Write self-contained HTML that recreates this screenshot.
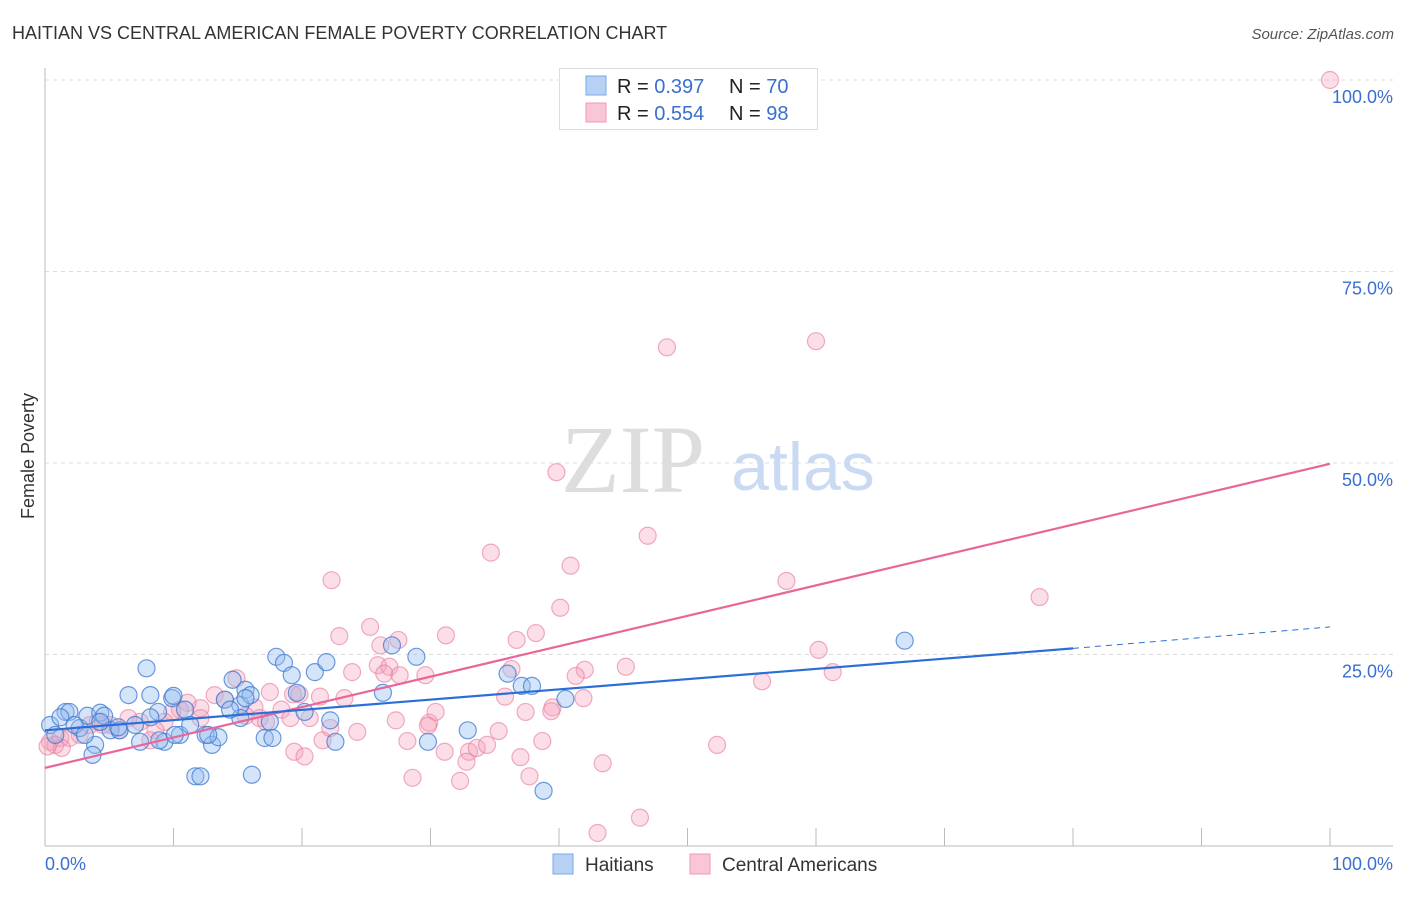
<!DOCTYPE html>
<html><head><meta charset="utf-8"><style>
body{margin:0;background:#fff;font-family:"Liberation Sans",sans-serif;}
svg text{font-family:"Liberation Sans",sans-serif;}
</style></head><body>
<svg id="chart" width="1406" height="892">
<text x="12" y="39" font-size="18" fill="#333">HAITIAN VS CENTRAL AMERICAN FEMALE POVERTY CORRELATION CHART</text>
<text x="1394" y="39" font-size="15" fill="#555" text-anchor="end" font-style="italic">Source: ZipAtlas.com</text>
<text x="34" y="456" font-size="18" fill="#333" text-anchor="middle" transform="rotate(-90 34 456)">Female Poverty</text>
<g id="grid"></g>
<text x="633" y="492" font-size="96" fill="#ddd" font-family="Liberation Serif" text-anchor="middle" style="font-family:'Liberation Serif',serif">ZIP</text>
<text x="803" y="490" font-size="68" fill="#c9daf2" text-anchor="middle">atlas</text>
<g id="pts"></g>
<g id="lines"></g>
<g>
<rect x="559.5" y="68.5" width="258" height="61" fill="#fff" stroke="#ddd"/>
<rect x="586" y="76" width="20" height="19" fill="#b7d1f5" stroke="#7aa7e6"/>
<rect x="586" y="103" width="20" height="19" fill="#f9c6d5" stroke="#ef9ab5"/>
<text x="617" y="93" font-size="20" fill="#222">R = <tspan fill="#3a6fd0">0.397</tspan></text>
<text x="729" y="93" font-size="20" fill="#222">N = <tspan fill="#3a6fd0">70</tspan></text>
<text x="617" y="120" font-size="20" fill="#222">R = <tspan fill="#3a6fd0">0.554</tspan></text>
<text x="729" y="120" font-size="20" fill="#222">N = <tspan fill="#3a6fd0">98</tspan></text>
</g>
<g>
<rect x="553" y="854" width="20" height="20" fill="#b7d1f5" stroke="#7aa7e6"/>
<text x="585" y="871" font-size="19" fill="#333">Haitians</text>
<rect x="690" y="854" width="20" height="20" fill="#f9c6d5" stroke="#ef9ab5"/>
<text x="722" y="871" font-size="19" fill="#333">Central Americans</text>
</g>
</svg>
<script>
const yTicks=[25,50,75,100];
const yTickLabels=["25.0%","50.0%","75.0%","100.0%"];
const xTicks=[0,10,20,30,40,50,60,70,80,90,100];
const haitiansX=[0.4,0.8,1.6,1.9,2.7,3.3,3.9,3.7,4.3,4.6,5.1,5.8,6.5,7.4,7.9,8.2,8.8,9.3,9.9,10.0,10.5,10.9,11.3,11.7,12.1,12.5,13.0,13.5,14.6,15.2,15.6,16.0,16.1,17.1,17.5,17.7,18.0,18.6,19.2,19.6,20.2,21.0,21.9,22.2,22.6,26.3,27.0,28.9,29.8,32.9,36.0,37.1,37.9,38.8,40.5,66.9,1.2,2.3,3.1,7.0,8.9,10.1,5.7,12.7,14.0,15.6,15.2,4.3,8.2,14.4];
const haitiansY=[15.8,14.5,17.5,17.5,15.4,17.0,13.2,11.9,17.4,17.0,15.1,15.1,19.7,13.6,23.2,19.7,17.5,13.6,19.3,19.6,14.5,17.8,15.8,9.1,9.1,14.5,13.2,14.2,21.7,18.4,20.4,19.7,9.3,14.1,16.2,14.1,24.7,23.9,22.3,20.0,17.5,22.7,24.0,16.4,13.6,20.0,26.2,24.7,13.6,15.1,22.5,20.9,20.9,7.2,19.2,26.8,16.8,15.8,14.5,15.8,13.8,14.5,15.5,14.5,19.1,19.3,16.7,16.2,16.8,17.8];
const centralX=[100,48.4,60.0,39.8,46.9,34.7,40.9,57.7,77.4,22.3,40.1,38.2,36.7,22.9,25.3,26.1,27.5,31.2,29.6,36.3,42.0,45.2,60.2,61.3,55.8,23.9,25.9,26.8,26.4,27.6,23.3,17.5,19.3,19.8,21.4,14.9,13.2,14.0,16.3,12.1,11.1,10.5,9.9,9.3,8.6,7.4,6.5,5.8,5.1,3.5,2.7,1.2,0.4,0.8,1.9,4.1,4.5,16.7,18.4,19.1,20.6,21.6,22.2,24.3,27.3,28.2,29.9,30.4,29.8,31.1,33.0,33.6,34.4,35.3,35.8,37.4,38.7,39.5,41.3,41.9,37.0,37.7,39.4,28.6,32.3,32.8,43.4,46.3,43.0,52.3,19.4,20.2,17.2,15.6,12.1,8.2,1.3,0.2];
const centralY=[100,65.1,65.9,48.8,40.5,38.3,36.6,34.6,32.5,34.7,31.1,27.8,26.9,27.4,28.6,26.2,26.9,27.5,22.3,23.1,23.0,23.4,25.6,22.7,21.5,22.7,23.6,23.4,22.5,22.3,19.3,20.1,19.8,19.8,19.5,21.9,19.7,19.1,18.1,18.0,18.7,17.8,17.5,16.2,15.1,16.2,16.7,15.1,15.8,15.8,14.5,14.1,13.6,13.2,14.1,16.2,15.8,16.7,17.8,16.7,16.7,13.8,15.4,14.9,16.4,13.7,16.1,17.5,15.7,12.3,12.3,12.8,13.2,15.0,19.5,17.5,13.7,18.1,22.2,19.3,11.6,9.1,17.6,8.9,8.5,11.0,10.8,3.7,1.7,13.2,12.3,11.7,16.2,17.0,16.7,13.8,12.8,13.0];
const haitiansTrend=[15.1,25.8,28.6]; // at x=0, 80, 100
const centralTrend=[10.2,49.9]; // at x=0, 100
const NS='http://www.w3.org/2000/svg';
const X=v=>45+v*12.85, Y=v=>846-v*7.66;
function mk(t,a,p){const e=document.createElementNS(NS,t);for(const k in a)e.setAttribute(k,a[k]);p.appendChild(e);return e;}
const grid=document.getElementById('grid');
yTicks.forEach((t,i)=>{
 const l=mk('line',{x1:45,x2:1393,y1:Y(t),y2:Y(t),stroke:'#ddd','stroke-dasharray':'4,4'},grid);
 
 
 const tx=mk('text',{x:1393,y:Y(t)+23,'font-size':18,fill:'#3a6fd0','text-anchor':'end'},grid);
 tx.textContent=yTickLabels[i];
 
 
});
const ax=mk('line',{x1:45,x2:1393,y1:846,y2:846,stroke:'#bbb'},grid);


const ay=mk('line',{x1:45,x2:45,y1:68,y2:846,stroke:'#bbb'},grid);


xTicks.forEach(t=>{if(t===0)return;
 const l=mk('line',{x1:X(t),x2:X(t),y1:828,y2:846,stroke:'#bbb'},grid);
 
 
});
const x0=mk('text',{x:45,y:870,'font-size':18,fill:'#3a6fd0'},grid);x0.textContent='0.0%';


const x1=mk('text',{x:1393,y:870,'font-size':18,fill:'#3a6fd0','text-anchor':'end'},grid);x1.textContent='100.0%';


const pts=document.getElementById('pts');
centralX.forEach((v,i)=>{
 const c=mk('circle',{cx:X(v),cy:Y(centralY[i]),r:8.5,fill:'rgba(244,160,186,0.35)',stroke:'rgba(232,120,155,0.6)','stroke-width':1.2},pts);
 
 
});
haitiansX.forEach((v,i)=>{
 const c=mk('circle',{cx:X(v),cy:Y(haitiansY[i]),r:8.5,fill:'rgba(150,190,240,0.4)',stroke:'rgba(60,120,210,0.75)','stroke-width':1.2},pts);
 
 
});
const lines=document.getElementById('lines');
const pl=mk('line',{x1:X(0),y1:Y(centralTrend[0]),x2:X(100),y2:Y(centralTrend[1]),stroke:'#e8669a','stroke-width':2.2},lines);


const bl=mk('line',{x1:X(0),y1:Y(haitiansTrend[0]),x2:X(80),y2:Y(haitiansTrend[1]),stroke:'#2b6fd6','stroke-width':2.2},lines);


const bd=mk('line',{x1:X(80),y1:Y(haitiansTrend[1]),x2:X(100),y2:Y(haitiansTrend[2]),stroke:'#2b6fd6','stroke-width':1,'stroke-dasharray':'6,5'},lines);


</script>
</body></html>
